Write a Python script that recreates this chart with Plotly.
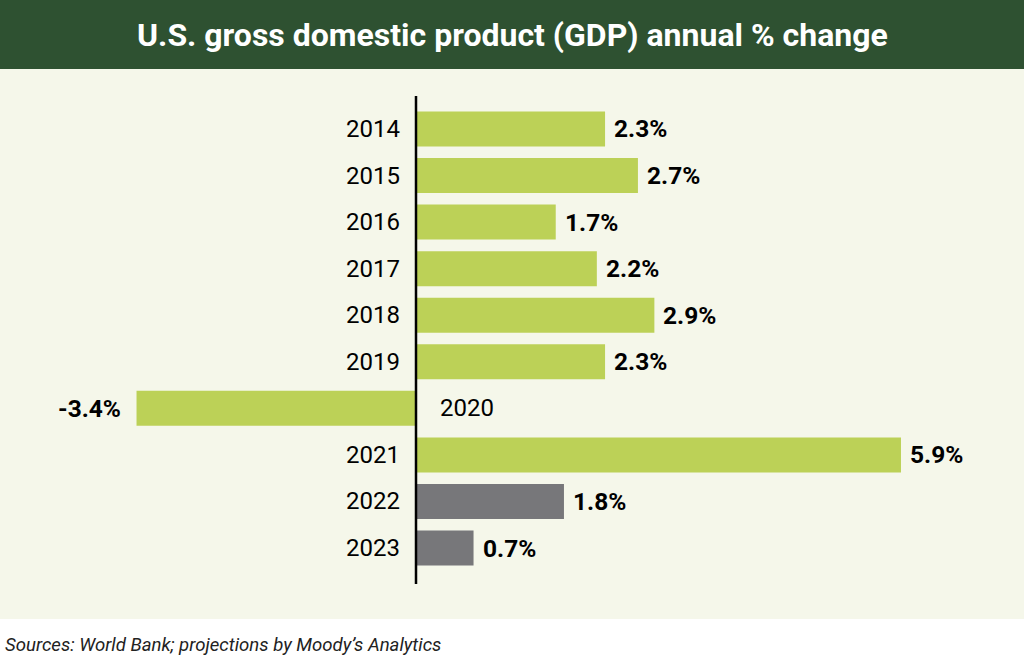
import plotly.graph_objects as go

years = ["2014", "2015", "2016", "2017", "2018", "2019", "2020", "2021", "2022", "2023"]
values = [2.3, 2.7, 1.7, 2.2, 2.9, 2.3, -3.4, 5.9, 1.8, 0.7]
value_labels = ["2.3%", "2.7%", "1.7%", "2.2%", "2.9%", "2.3%", "-3.4%", "5.9%", "1.8%", "0.7%"]
projected = [False, False, False, False, False, False, False, False, True, True]

GREEN = "#bcd157"
GRAY = "#77777a"
BANNER = "#2e5131"
CREAM = "#f5f7ea"
FONT = "Roboto"

W, H = 1024, 671
zero_px = 416
px_per_unit = 82.2
x_range = [-zero_px / px_per_unit, (W - zero_px) / px_per_unit]

top_band = 105.7
bot_band = 571.3
y_domain = [1 - bot_band / H, 1 - top_band / H]

colors = [GRAY if p else GREEN for p in projected]

fig = go.Figure(go.Bar(
    x=values, y=years, orientation="h",
    marker=dict(color=colors, line=dict(width=0)),
    hoverinfo="skip",
))

shapes = [
    dict(type="rect", xref="paper", yref="paper", x0=0, x1=1, y0=1 - 619 / H, y1=1 - 69 / H,
         fillcolor=CREAM, line=dict(width=0), layer="below"),
    dict(type="rect", xref="paper", yref="paper", x0=0, x1=1, y0=1 - 69 / H, y1=1,
         fillcolor=BANNER, line=dict(width=0), layer="below"),
    dict(type="line", xref="x", yref="paper", x0=0, x1=0, y0=1 - 584 / H, y1=1 - 96 / H,
         line=dict(color="black", width=2.5), layer="above"),
]

annotations = []
for i, (y, v, lab) in enumerate(zip(years, values, value_labels)):
    if v >= 0:
        annotations.append(dict(x=0, y=i, xref="x", yref="y", text=y, showarrow=False,
                                xanchor="right", xshift=-14, font=dict(family=FONT, size=24, color="black")))
        annotations.append(dict(x=v, y=i, xref="x", yref="y", text="<b>" + lab + "</b>", showarrow=False,
                                xanchor="left", xshift=7, font=dict(family=FONT, size=24.5, color="black")))
    else:
        annotations.append(dict(x=0, y=i, xref="x", yref="y", text=y, showarrow=False,
                                xanchor="left", xshift=22, font=dict(family=FONT, size=24, color="black")))
        annotations.append(dict(x=v, y=i, xref="x", yref="y", text="<b>" + lab + "</b>", showarrow=False,
                                xanchor="right", xshift=-14, font=dict(family=FONT, size=24.5, color="black")))

annotations.append(dict(x=0.5, y=1 - 35 / H, xref="paper", yref="paper",
                        text="<b>U.S. gross domestic product (GDP) annual % change</b>",
                        showarrow=False, xanchor="center", yanchor="middle",
                        font=dict(family=FONT, size=32, color="white")))
annotations.append(dict(x=3 / W, y=1 - 645 / H, xref="paper", yref="paper",
                        text="<i>Sources: World Bank; projections by Moody’s Analytics</i>",
                        showarrow=False, xanchor="left", yanchor="middle",
                        font=dict(family=FONT, size=18.6, color="#222222")))

fig.update_layout(
    width=W, height=H,
    margin=dict(l=0, r=0, t=0, b=0),
    paper_bgcolor="white",
    plot_bgcolor="rgba(0,0,0,0)",
    bargap=0.248,
    showlegend=False,
    shapes=shapes,
    annotations=annotations,
    xaxis=dict(range=x_range, autorange=False, visible=False, fixedrange=True),
    yaxis=dict(domain=y_domain, type="category", categoryorder="array", categoryarray=years,
               range=[len(years) - 0.5, -0.5], autorange=False, visible=False, fixedrange=True),
)

fig.write_html("out.html", config={"displayModeBar": False},
               post_script="document.body.style.margin='0';document.body.style.padding='0';")
